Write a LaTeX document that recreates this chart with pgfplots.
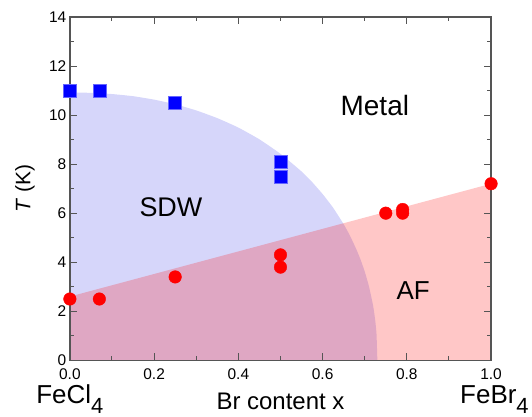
\documentclass[border=0pt]{standalone}
\usepackage{pgfplots}
\pgfplotsset{compat=1.18}
\usepackage{fontspec}
\setmainfont{Liberation Sans}
\definecolor{sdw}{RGB}{214,214,250}
\definecolor{axgray}{RGB}{85,85,85}
\begin{document}
\begin{tikzpicture}
\begin{axis}[
  at={(0pt,0pt)}, anchor=south west,
  width=422pt, height=344pt, scale only axis,
  xmin=0, xmax=1, ymin=0, ymax=14,
  xtick={0,0.2,0.4,0.6,0.8,1.0},
  xticklabels={0.0,0.2,0.4,0.6,0.8,1.0},
  minor xtick={0.1,0.3,0.5,0.7,0.9},
  ytick={0,2,4,6,8,10,12,14},
  minor ytick={1,3,5,7,9,11,13},
  tick align=inside,
  major tick length=7pt, minor tick length=4pt,
  every tick/.style={axgray, line width=1pt},
  axis line style={axgray, line width=1.3pt},
  ticklabel style={font=\fontsize{15.5}{18}\selectfont, text=black},
  xticklabel style={yshift=-5pt},
  /pgf/number format/assume math mode=true,
  set layers, clip mode=individual,
]
% SDW region (boundary)
\addplot[on layer=axis background, draw=none, fill=sdw, smooth, tension=0.3]
  coordinates {(0,10.92) (0.05,10.906) (0.1,10.857) (0.15,10.77) (0.2,10.63) (0.25,10.44) (0.3,10.19) (0.35,9.875) (0.4,9.49) (0.45,9.01) (0.5,8.42) (0.55,7.70) (0.575,7.27) (0.6,6.78) (0.625,6.22) (0.65,5.55) (0.665,5.08) (0.68,4.53) (0.69,4.11) (0.70,3.62) (0.71,3.02) (0.72,2.22) (0.725,1.62) (0.728,1.07) (0.73,0)} \closedcycle;
% AF region
\addplot[on layer=axis background, draw=none, fill=red, fill opacity=0.22]
  coordinates {(0,2.6) (1,7.2)} \closedcycle;
% Metal-SDW transition (squares)
\addplot[only marks, mark=square*, mark size=6.5pt, mark options={fill=blue, draw=blue!60!white, line width=0.4pt}]
  coordinates {(0,11) (0.07,11) (0.25,10.5) (0.5,8.1) (0.5,7.5)};
% AF transition (circles)
\addplot[only marks, mark=*, mark size=6.3pt, mark options={fill=red, draw=red}]
  coordinates {(0,2.5) (0.07,2.5) (0.25,3.4) (0.5,4.3) (0.5,3.8) (0.75,6.0) (0.79,6.15) (0.79,6.0) (1.0,7.2)};
\node[font=\fontsize{28}{32}\selectfont] at (axis cs:0.724,10.4) {Metal};
\node[font=\fontsize{27}{31}\selectfont] at (axis cs:0.24,6.23) {SDW};
\node[font=\fontsize{26}{30}\selectfont] at (axis cs:0.815,2.85) {AF};
\node[anchor=base, font=\fontsize{24}{28}\selectfont] at ([yshift=-49pt]rel axis cs:0.5,0) {Br content x};
\node[anchor=base, font=\fontsize{26}{30}\selectfont] at ([yshift=-43pt]rel axis cs:0,0) {FeCl\raisebox{-10pt}{\fontsize{22}{24}\selectfont 4}};
\node[anchor=base, font=\fontsize{26}{30}\selectfont] at ([yshift=-43pt]rel axis cs:1.008,0) {FeBr\raisebox{-10pt}{\fontsize{22}{24}\selectfont 4}};
\node[rotate=90, font=\fontsize{21}{24}\selectfont] at ([xshift=-45pt]rel axis cs:0,0.5) {\textit{T} (K)};
\end{axis}
\path (-70pt,-56pt) rectangle (462pt,361pt);
\end{tikzpicture}
\end{document}
